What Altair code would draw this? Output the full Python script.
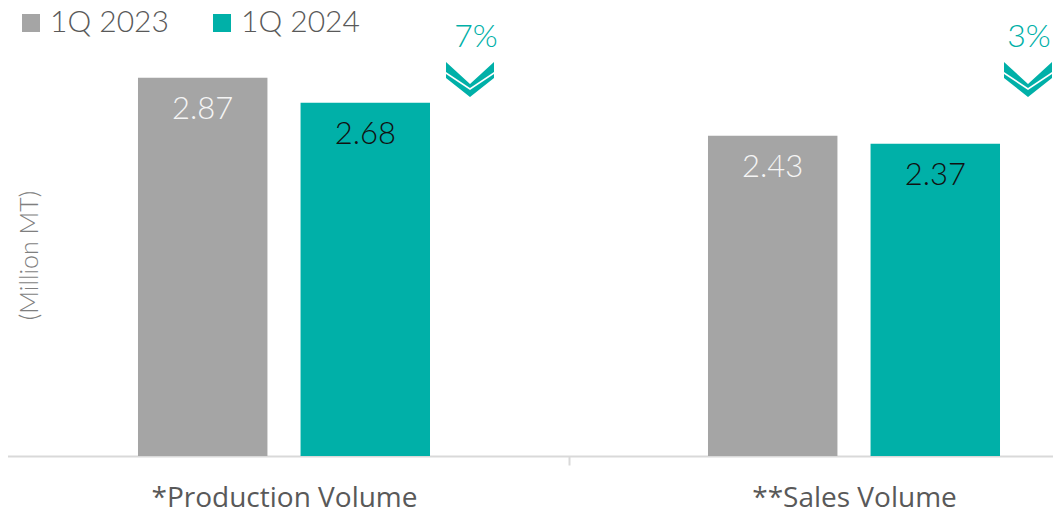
import altair as alt
import pandas as pd

categories = ["*Production Volume", "**Sales Volume"]
series = ["1Q 2023", "1Q 2024"]
values_2023 = [2.87, 2.43]
values_2024 = [2.68, 2.37]
pct_change = ["7%", "3%"]

rows = []
for c, a, b in zip(categories, values_2023, values_2024):
    rows.append({"category": c, "series": series[0], "value": a})
    rows.append({"category": c, "series": series[1], "value": b})
df = pd.DataFrame(rows)
pct_df = pd.DataFrame({"category": categories, "pct": pct_change})

FONT = "Lato"
AXFONT = "Open Sans"
TEAL = "#00b0a8"
GRAY = "#a5a5a5"
CHEVRON = ("M-1,-0.73L0,0.19L1,-0.73L1,-0.31L0,0.35L-1,-0.31Z "
           "M-1,-0.23L0,0.44L1,-0.23L1,-0.06L0,0.73L-1,-0.06Z")

x_enc = alt.X(
    "category:N", sort=categories,
    scale=alt.Scale(range=[-9, 1131], paddingInner=0, paddingOuter=0),
    axis=alt.Axis(title=None, labelAngle=0, labelFontSize=28, labelFont=AXFONT,
                  labelColor="#595959", labelPadding=41, labelBaseline="alphabetic",
                  labelLimit=0, tickBand="extent",
                  tickSize=9, tickColor="#d9d9d9", tickWidth=2,
                  domainColor="#d9d9d9", domainWidth=2, grid=False),
)
x_plain = alt.X("category:N", sort=categories)
y_enc = alt.Y(
    "value:Q",
    scale=alt.Scale(domain=[0, 3.4], nice=False, zero=True),
    axis=alt.Axis(title="(Million MT)", titleAngle=-90, titleX=21, titleY=247,
                  titleFontSize=25, titleFont=FONT, titleFontWeight=300,
                  titleColor="#7f7f7f", titleAlign="center", titleBaseline="middle",
                  labels=False, ticks=False, domain=False, grid=False),
)
xoff = alt.XOffset("series:N", sort=series,
                   scale=alt.Scale(paddingInner=0.2037, paddingOuter=0.855))

bars = alt.Chart(df).mark_bar().encode(
    x=x_enc, y=y_enc, xOffset=xoff,
    color=alt.Color("series:N", sort=series,
                    scale=alt.Scale(domain=series, range=[GRAY, TEAL]),
                    legend=alt.Legend(orient="none", legendX=8, legendY=0,
                                      direction="horizontal", title=None,
                                      symbolType="square", symbolSize=324,
                                      symbolStrokeWidth=0, symbolOpacity=1,
                                      labelFontSize=30, labelFont=FONT,
                                      labelFontWeight=300, labelColor="#595959",
                                      labelOffset=4, columnPadding=38, labelLimit=300)),
)

labels = alt.Chart(df).mark_text(dy=32, fontSize=31, font=FONT, fontWeight=300,
                                 baseline="middle").encode(
    x=x_plain, y="value:Q", xOffset=xoff,
    text=alt.Text("value:Q", format=".2f"),
    color=alt.condition(alt.datum.series == series[0], alt.value("#f5f5f5"), alt.value("#111111")),
)

def pct_layer(cat, chev_off, text_off):
    base = alt.Chart(pct_df).transform_filter(alt.datum.category == cat)
    t = base.mark_text(xOffset=text_off, fontSize=32, font=FONT, fontWeight=300,
                       color=TEAL, baseline="middle").encode(
        x=x_plain, y=alt.value(29), text="pct:N")
    c = base.mark_point(shape=CHEVRON, size=2304, filled=True, opacity=1,
                        color=TEAL, strokeWidth=0, xOffset=chev_off).encode(
        x=x_plain, y=alt.value(71.5))
    return t + c

chart = alt.layer(bars, labels,
                  pct_layer(categories[0], 186, 192),
                  pct_layer(categories[1], 174, 175)).properties(
    width=1045, height=448,
    autosize=alt.AutoSizeParams(type="none"),
    padding={"left": 0, "top": 0, "right": 0, "bottom": 57},
).configure_view(stroke=None)

chart.save("out.html", embed_options={"renderer": "svg", "actions": False})
